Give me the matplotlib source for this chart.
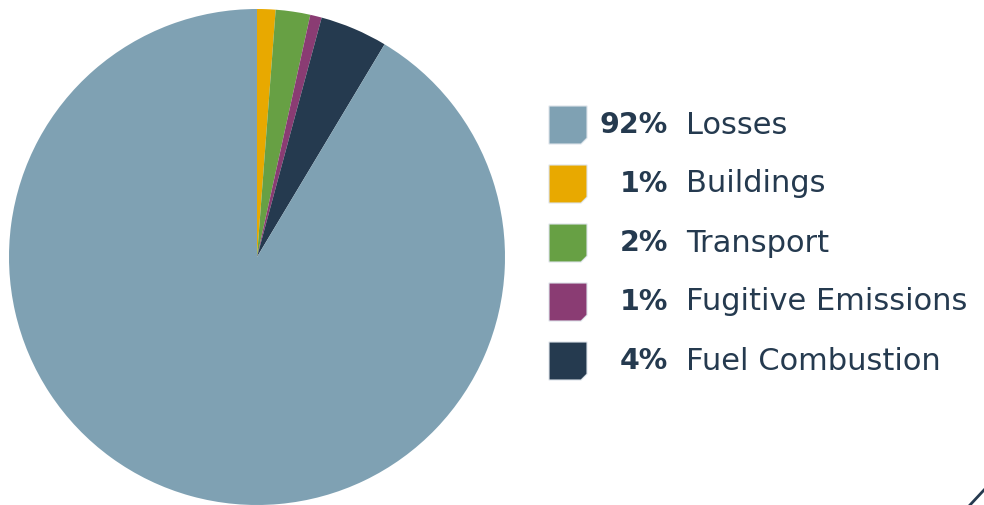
import matplotlib
matplotlib.use("Agg")
import matplotlib.pyplot as plt
from matplotlib.patches import Polygon
from matplotlib.lines import Line2D

# slices, clockwise from 12 o'clock (shares read from the drawn wedges)
slice_names = ["Buildings", "Transport", "Fugitive Emissions", "Fuel Combustion", "Losses"]
slice_shares = [1.2, 2.25, 0.75, 4.4, 91.4]
slice_colors = ["#e8a900", "#67a044", "#8a3c73", "#253a4f", "#7fa1b3"]

# legend rows, top to bottom
legend_names = ["Losses", "Buildings", "Transport", "Fugitive Emissions", "Fuel Combustion"]
legend_pcts = ["92%", "1%", "2%", "1%", "4%"]

text_color = "#253a4f"
W, H = 984, 505

fig = plt.figure(figsize=(W / 100, H / 100), dpi=100)

# pie: centre (257, 257) px, radius 248 px
cx, cy, r = 257, 257, 248
ax = fig.add_axes([(cx - r) / W, 1 - (cy + r) / H, 2 * r / W, 2 * r / H])
ax.pie(slice_shares, colors=slice_colors, startangle=90, counterclock=False,
       radius=1, wedgeprops=dict(linewidth=0))
ax.set_xlim(-1, 1)
ax.set_ylim(-1, 1)
ax.set_aspect("auto")
ax.axis("off")

color_of = dict(zip(slice_names, slice_colors))

# legend: squares with a clipped bottom-right corner
x0, size, cut = 549, 38, 6
y_first, step = 106, 59
for i, (name, pct) in enumerate(zip(legend_names, legend_pcts)):
    top = y_first + i * step
    pts = [(x0, top), (x0 + size, top), (x0 + size, top + size - cut),
           (x0 + size - cut, top + size), (x0, top + size)]
    pts = [(x / W, 1 - y / H) for x, y in pts]
    fig.patches.append(Polygon(pts, closed=True, transform=fig.transFigure,
                               facecolor=color_of[name], edgecolor="#dde4ea",
                               linewidth=0.8))
    yc = 1 - (top + size / 2) / H
    fig.text(668 / W, yc, pct, ha="right", va="center", fontsize=20.5,
             fontweight="bold", color=text_color, family="DejaVu Sans")
    fig.text(686 / W, yc, name, ha="left", va="center", fontsize=22,
             color=text_color, family="DejaVu Sans")

# small diagonal stroke in the bottom-right corner
fig.lines.append(Line2D([970 / W, 984 / W], [1 - 505 / H, 1 - 490 / H],
                        transform=fig.transFigure, color=text_color, linewidth=2))

fig.savefig("out.png", dpi=100)
